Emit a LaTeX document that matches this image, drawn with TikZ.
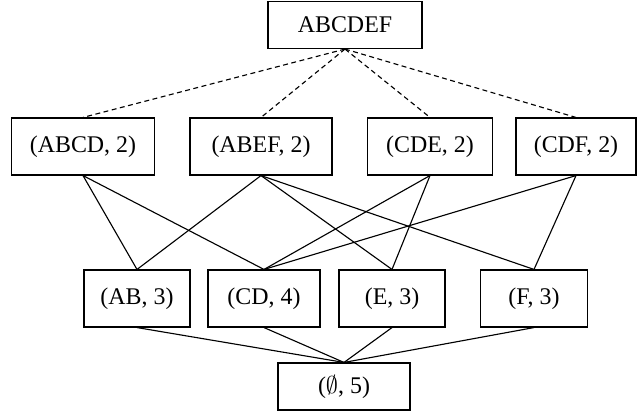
\documentclass[tikz,border=0pt]{standalone}
\usepackage{amsmath}
\usepackage{fontspec}
\setmainfont{Liberation Serif}
\usepackage{tikz}
\usetikzlibrary{positioning}
\tikzset{
    itemset/.style={draw, line width=0.8pt, minimum height=1.425cm, inner sep=0pt, font=\fontsize{17}{20}\selectfont},
    rootset/.style={itemset, minimum height=1.175cm},
    link/.style={line width=0.8pt},
    sublink/.style={line width=0.8pt, dash pattern=on 3.5pt off 2.5pt},
}

\begin{document}
\begin{tikzpicture}[scale=1]
    \useasboundingbox (0,0) rectangle (16,10.3);

    % Root
    \node[rootset, minimum width=3.85cm] (R) at (8.625, 9.675) {ABCDEF};

    % Second level
    \node[itemset, minimum width=3.575cm] (ABCD) at (2.075, 6.6375) {(ABCD, 2)};
    \node[itemset, minimum width=3.55cm] (ABEF) at (6.525, 6.6375) {(ABEF, 2)};
    \node[itemset, minimum width=3.125cm] (CDE) at (10.75, 6.6375) {(CDE, 2)};
    \node[itemset, minimum width=3.0cm] (CDF) at (14.4, 6.6375) {(CDF, 2)};

    % Third level
    \node[itemset, minimum width=2.65cm] (AB) at (3.425, 2.8375) {(AB, 3)};
    \node[itemset, minimum width=2.8cm] (CD) at (6.6, 2.8375) {(CD, 4)};
    \node[itemset, minimum width=2.65cm] (E) at (9.8, 2.8375) {(E, 3)};
    \node[itemset, minimum width=2.675cm] (F) at (13.35, 2.8375) {(F, 3)};

    % Empty set
    \node[rootset, minimum width=3.3cm] (N) at (8.6, 0.6375) {($\emptyset$, 5)};

    % Dashed links from root
    \draw[sublink] (R.south) -- (ABCD.north);
    \draw[sublink] (R.south) -- (ABEF.north);
    \draw[sublink] (R.south) -- (CDE.north);
    \draw[sublink] (R.south) -- (CDF.north);

    % Second to third level
    \draw[link] (ABCD.south) -- (AB.north);
    \draw[link] (ABCD.south) -- (CD.north);
    \draw[link] (ABEF.south) -- (AB.north);
    \draw[link] (ABEF.south) -- (E.north);
    \draw[link] (ABEF.south) -- (F.north);
    \draw[link] (CDE.south) -- (CD.north);
    \draw[link] (CDE.south) -- (E.north);
    \draw[link] (CDF.south) -- (CD.north);
    \draw[link] (CDF.south) -- (F.north);

    % Third level to empty set
    \draw[link] (AB.south) -- (N.north);
    \draw[link] (CD.south) -- (N.north);
    \draw[link] (E.south) -- (N.north);
    \draw[link] (F.south) -- (N.north);
\end{tikzpicture}
\end{document}
